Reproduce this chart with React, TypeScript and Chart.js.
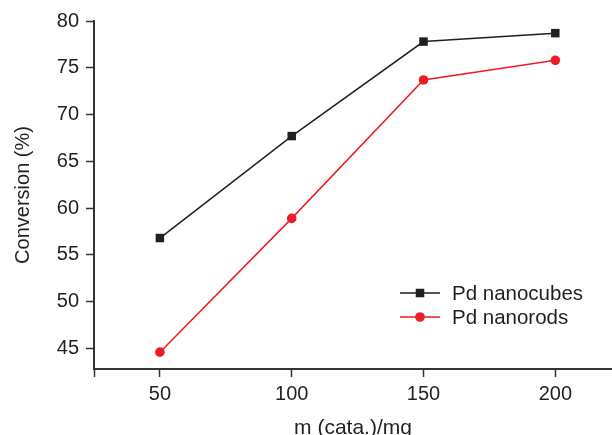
import React, { useEffect, useRef } from "react";
import { Chart, registerables } from "chart.js";

Chart.register(...registerables);

const masses = [50, 100, 150, 200];
const nanocubes = [56.8, 67.7, 77.8, 78.7];
const nanorods = [44.6, 58.9, 73.7, 75.8];
const xTicks = [25, 50, 100, 150, 200];
const yTicks = [45, 50, 55, 60, 65, 70, 75, 80];
const seriesLabels = ["Pd nanocubes", "Pd nanorods"];

const AXIS = "#333333";
const TEXT = "#231f20";
const FONT = "'Liberation Sans', Arial, sans-serif";

const legendPlugin = {
  id: "insetLegend",
  afterDraw(chart: any) {
    const { ctx, chartArea } = chart;
    const x0 = chartArea.right - 212;
    const y0 = chartArea.bottom - 76;
    ctx.save();
    chart.data.datasets.forEach((ds: any, i: number) => {
      const y = y0 + i * 24;
      ctx.strokeStyle = ds.borderColor;
      ctx.lineWidth = ds.borderWidth;
      ctx.beginPath();
      ctx.moveTo(x0, y);
      ctx.lineTo(x0 + 40, y);
      ctx.stroke();
      ctx.fillStyle = ds.pointBackgroundColor;
      if (ds.pointStyle === "rect") {
        ctx.fillRect(x0 + 20 - 4.25, y - 4.25, 8.5, 8.5);
      } else {
        ctx.beginPath();
        ctx.arc(x0 + 20, y, ds.pointRadius, 0, Math.PI * 2);
        ctx.fill();
      }
      ctx.fillStyle = TEXT;
      ctx.font = `20.5px ${FONT}`;
      ctx.textBaseline = "middle";
      ctx.textAlign = "left";
      ctx.fillText(ds.label, x0 + 52, y + 1);
    });
    ctx.restore();
  },
};

export default function App() {
  const ref = useRef<HTMLCanvasElement | null>(null);
  useEffect(() => {
    if (!ref.current) return;
    const chart = new Chart(ref.current, {
      type: "line",
      data: {
        datasets: [
          {
            label: seriesLabels[0],
            data: masses.map((m, i) => ({ x: m, y: nanocubes[i] })),
            borderColor: "#231f20",
            backgroundColor: "#231f20",
            pointBackgroundColor: "#231f20",
            pointBorderWidth: 0,
            borderWidth: 1.5,
            pointStyle: "rect",
            pointRadius: 6,
          },
          {
            label: seriesLabels[1],
            data: masses.map((m, i) => ({ x: m, y: nanorods[i] })),
            borderColor: "#ed1c24",
            backgroundColor: "#ed1c24",
            pointBackgroundColor: "#ed1c24",
            pointBorderWidth: 0,
            borderWidth: 1.5,
            pointStyle: "circle",
            pointRadius: 4.8,
          },
        ],
      },
      options: {
        animation: false,
        responsive: true,
        maintainAspectRatio: false,
        layout: { autoPadding: false, padding: { top: 21, left: 0, right: 0, bottom: 0 } },
        plugins: { legend: { display: false }, tooltip: { enabled: false } },
        scales: {
          x: {
            type: "linear",
            min: 25,
            max: 221.5,
            afterBuildTicks: (s: any) => {
              s.ticks = xTicks.map((v) => ({ value: v }));
            },
            afterFit: (s: any) => {
              s.height = 66;
              s.paddingLeft = 0;
              s.paddingRight = 0;
            },
            grid: {
              display: true,
              drawOnChartArea: false,
              drawTicks: true,
              tickLength: 8,
              tickWidth: 1.5,
              tickColor: AXIS,
            },
            border: { display: true, color: AXIS, width: 2 },
            ticks: {
              color: TEXT,
              font: { family: FONT, size: 20 },
              padding: 5,
              maxRotation: 0,
              callback: (v: any) => (v === 25 ? "" : String(v)),
            },
            title: {
              display: true,
              text: "m (cata.)/mg",
              color: TEXT,
              font: { family: FONT, size: 21, lineHeight: 0.65 },
              padding: { top: 0, bottom: 0 },
            },
          },
          y: {
            min: 42.8,
            max: 80,
            afterBuildTicks: (s: any) => {
              s.ticks = yTicks.map((v) => ({ value: v }));
            },
            afterFit: (s: any) => {
              s.width = 94;
            },
            grid: {
              display: true,
              drawOnChartArea: false,
              drawTicks: true,
              tickLength: 8,
              tickWidth: 1.5,
              tickColor: AXIS,
            },
            border: { display: true, color: AXIS, width: 2 },
            ticks: {
              color: TEXT,
              font: { family: FONT, size: 20 },
              padding: 7,
            },
            title: {
              display: true,
              text: "Conversion (%)",
              color: TEXT,
              font: { family: FONT, size: 20 },
              padding: { top: 11, bottom: 0 },
            },
          },
        },
      },
      plugins: [legendPlugin],
    } as any);
    return () => chart.destroy();
  }, []);
  return (
    <div style={{ position: "absolute", left: 0, top: 0, width: 612, height: 435 }}>
      <canvas ref={ref} />
    </div>
  );
}
